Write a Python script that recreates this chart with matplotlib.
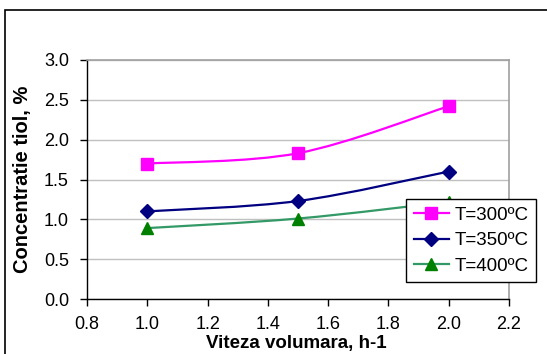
import matplotlib.pyplot as plt
from matplotlib.path import Path
from matplotlib.patches import PathPatch, Rectangle
from matplotlib.lines import Line2D

plt.rcParams['font.family'] = ['Liberation Sans', 'DejaVu Sans']

viteza = [1.0, 1.5, 2.0]
t300 = [1.70, 1.83, 2.42]
t350 = [1.10, 1.23, 1.60]
t400 = [0.89, 1.01, 1.22]
etichete = ['T=300ºC', 'T=350ºC', 'T=400ºC']


def smooth_path(xs, ys):
    # cubic bezier through the points (catmull-rom style, like excel smoothing)
    pts = list(zip(xs, ys))
    verts = [pts[0]]
    codes = [Path.MOVETO]
    n = len(pts)
    for i in range(n - 1):
        p0 = pts[i - 1] if i > 0 else pts[i]
        p1 = pts[i]
        p2 = pts[i + 1]
        p3 = pts[i + 2] if i + 2 < n else pts[i + 1]
        c1 = (p1[0] + (p2[0] - p0[0]) / 6, p1[1] + (p2[1] - p0[1]) / 6)
        c2 = (p2[0] - (p3[0] - p1[0]) / 6, p2[1] - (p3[1] - p1[1]) / 6)
        verts += [c1, c2, p2]
        codes += [Path.CURVE4] * 3
    return Path(verts, codes)


fig = plt.figure(figsize=(5.47, 3.54), dpi=100)
fig.patches.append(Rectangle((5 / 547, -0.1), 1.2, 1 - 10 / 354 + 0.1,
                             transform=fig.transFigure, fill=False,
                             edgecolor='black', linewidth=1.2))

ax = fig.add_axes([87 / 547, 55 / 354, 422 / 547, 239 / 354])

serii = [
    (t300, '#FF00FF', '#FF00FF', 's', 8.5),
    (t350, '#000080', '#000080', 'D', 7),
    (t400, '#339966', '#008000', '^', 9),
]
handles = []
for (ys, lc, mc, mk, ms), lab in zip(serii, etichete):
    ax.add_patch(PathPatch(smooth_path(viteza, ys), fill=False,
                           edgecolor=lc, linewidth=1.6, zorder=3))
    ax.plot(viteza, ys, linestyle='none', marker=mk, markersize=ms,
            color=mc, zorder=4, clip_on=False)
    handles.append(Line2D([], [], color=lc, linewidth=1.6, marker=mk,
                          markersize=ms, markerfacecolor=mc,
                          markeredgecolor=mc))

ax.set_xlim(0.8, 2.2)
ax.set_ylim(0, 3.0)
ax.set_xticks([0.8, 1.0, 1.2, 1.4, 1.6, 1.8, 2.0, 2.2])
ax.set_yticks([0.0, 0.5, 1.0, 1.5, 2.0, 2.5, 3.0])
ax.xaxis.set_major_formatter(plt.FormatStrFormatter('%.1f'))
ax.yaxis.set_major_formatter(plt.FormatStrFormatter('%.1f'))
ax.grid(axis='y', color='#c0c0c0', linewidth=1)
ax.set_axisbelow(True)

for s in ['top', 'right']:
    ax.spines[s].set_color('#a0a0a0')
    ax.spines[s].set_linewidth(1.2)
for s in ['left', 'bottom']:
    ax.spines[s].set_color('black')
    ax.spines[s].set_linewidth(1)
ax.tick_params(direction='out', length=5, width=1, labelsize=13,
               colors='black')
ax.tick_params(axis='x', pad=7)
ax.tick_params(axis='y', pad=8)

ax.set_xlabel('Viteza volumara, h-1', fontsize=13.5, fontweight='bold')
ax.set_ylabel('Concentratie tiol, %', fontsize=14.5, fontweight='bold')
ax.xaxis.set_label_coords(0.495, -0.15)
ax.yaxis.set_label_coords(-0.13, 0.5)

leg = ax.legend(handles, etichete, loc='upper left',
                bbox_to_anchor=(406 / 547, 155 / 354),
                bbox_transform=fig.transFigure, fontsize=13.5,
                frameon=True, fancybox=False, framealpha=1,
                edgecolor='black', handlelength=1.9, handletextpad=0.3,
                borderpad=0.4, labelspacing=0.45, borderaxespad=0)
leg.get_frame().set_linewidth(1)

fig.savefig('out.png', dpi=100)
